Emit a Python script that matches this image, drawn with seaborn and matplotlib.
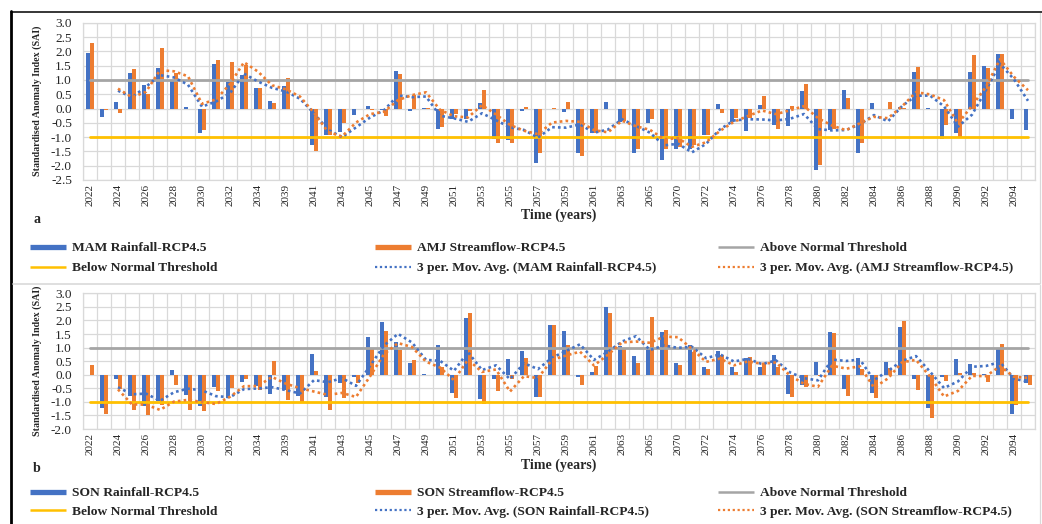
import numpy as np
import pandas as pd
import matplotlib
matplotlib.use("Agg")
import matplotlib.pyplot as plt
import seaborn as sns
from matplotlib.lines import Line2D
from matplotlib.font_manager import FontProperties

# ---- data -------------------------------------------------------------
years = ([str(y) for y in range(2022, 2036)]
         + [str(y) for y in range(2039, 2067)]
         + [str(y) for y in range(2070, 2096)])

mam_rainfall = [1.95, -0.29, 0.21, 1.25, 0.82, 1.43, 1.01, 0.05, -0.87, 1.55,
                0.93, 1.17, 0.73, 0.27, 0.78, -0.03, -1.26, -0.93, -0.82, -0.23,
                0.10, -0.05, 1.32, -0.08, 0.02, -0.70, -0.35, -0.35, 0.20, -1.08,
                -1.10, -0.07, -1.89, 0.00, -0.12, -1.55, -0.87, 0.21, -0.47, -1.57,
                -0.50, -1.80, -1.40, -1.40, -0.92, 0.14, -0.47, -0.80, 0.12, -0.58,
                -0.62, 0.62, -2.16, -0.76, 0.66, -1.55, 0.20, 0.00, 0.05, 1.29,
                0.02, -1.08, -0.85, 1.28, 1.49, 1.92, -0.35, -0.76]
amj_streamflow = [2.28, -0.05, -0.15, 1.38, 0.52, 2.13, 1.25, 0.00, -0.76, 1.71,
                  1.63, 1.51, 0.73, 0.20, 1.08, -0.03, -1.49, -0.93, -0.52, -0.02,
                  -0.05, -0.27, 1.20, 0.47, 0.03, -0.64, -0.20, -0.10, 0.66, -1.19,
                  -1.19, 0.05, -1.55, 0.02, 0.23, -1.65, -0.85, 0.00, -0.43, -1.43,
                  -0.38, -1.40, -1.34, -1.28, -0.92, -0.15, -0.32, -0.32, 0.43, -0.70,
                  0.08, 0.87, -1.96, -0.70, 0.38, -1.22, -0.03, 0.23, 0.02, 1.46,
                  0.00, -0.58, -0.99, 1.86, 1.40, 1.92, 0.00, 0.00]
son_rainfall = [0.00, -1.22, -0.17, -0.77, -1.15, -0.96, 0.17, -0.75, -1.15, -0.47,
                -0.86, -0.26, -0.40, -0.72, -0.58, -0.78, 0.76, -0.81, -0.32, -0.10,
                1.38, 1.95, 1.19, 0.42, 0.03, 1.09, -0.69, 2.10, -0.90, -0.16,
                0.57, 0.86, -0.81, 1.83, 1.60, -0.07, 0.11, 2.50, 1.06, 0.70,
                0.97, 1.56, 0.44, 1.09, 0.30, 0.86, 0.30, 0.60, 0.27, 0.71,
                -0.72, -0.38, 0.48, 1.58, -0.54, 0.63, -0.69, 0.48, 1.74, -0.16,
                -1.24, -0.07, 0.57, 0.38, 0.02, 1.00, -1.46, -0.32]
son_streamflow = [0.36, -1.46, -0.52, -1.30, -1.49, -1.10, -0.38, -1.30, -1.34, -0.60,
                  -0.50, -0.17, -0.58, 0.51, -0.93, -1.06, 0.13, -1.30, -0.84, -0.32,
                  0.97, 1.62, 0.91, 0.53, 0.00, 0.27, -0.87, 2.27, -1.09, -0.60,
                  -0.17, 0.61, -0.81, 1.85, 1.08, -0.38, 0.32, 2.28, 0.97, 0.42,
                  2.14, 1.65, 0.36, 0.85, 0.21, 0.72, 0.11, 0.64, 0.45, 0.27,
                  -0.81, -0.47, -0.05, 1.52, -0.79, 0.20, -0.84, 0.23, 1.98, -0.57,
                  -1.61, -0.23, 0.05, 0.05, -0.26, 1.15, -1.12, -0.38]

above_normal = 1.0
below_normal = -1.0
ma_window = 3

# ---- style ------------------------------------------------------------
W, H = 1042, 524
BLUE, ORANGE = "#4472C4", "#ED7D31"
GRAY, YELLOW = "#A5A5A5", "#FFC000"
GRID = "#D9D9D9"

sns.set_theme(style="white")
plt.rcParams["font.family"] = ["Liberation Serif", "DejaVu Serif"]
plt.rcParams["axes.unicode_minus"] = False

fig = plt.figure(figsize=(W / 100, H / 100), dpi=100)
fig.patch.set_facecolor("white")


def fx(px):
    return px / W


def fy(py):
    return 1 - py / H


def draw_panel(ax, rain, flow, rain_name, flow_name, ylo):
    n = len(years)
    df = pd.DataFrame({
        "year": years * 2,
        "sai": list(rain) + list(flow),
        "series": [rain_name] * n + [flow_name] * n,
    })
    sns.barplot(data=df, x="year", y="sai", hue="series", order=years,
                hue_order=[rain_name, flow_name], palette=[BLUE, ORANGE],
                saturation=1, width=0.6, gap=0, legend=False, ax=ax,
                linewidth=0, zorder=2)

    pos = np.arange(n)
    sns.lineplot(x=pos, y=[above_normal] * n, color=GRAY, lw=2.0, ax=ax, zorder=3)
    sns.lineplot(x=pos, y=[below_normal] * n, color=YELLOW, lw=2.0, ax=ax, zorder=3)

    # trailing 3-period moving averages
    rain_ma = pd.Series(rain).rolling(ma_window).mean()
    flow_ma = pd.Series(flow).rolling(ma_window).mean()
    for ma, col in ((rain_ma, BLUE), (flow_ma, ORANGE)):
        ok = ma.notna().values
        sns.lineplot(x=pos[ok], y=ma.values[ok], color=col, lw=1.9, ax=ax,
                     linestyle=(0, (1, 1.2)), zorder=4, sort=False)

    ticks = np.arange(ylo, 3.001, 0.5)
    ax.set_xlim(-0.5, n - 0.5)
    ax.set_ylim(ylo, 3.0)
    ax.set_yticks(ticks)
    ax.set_yticklabels([f"{v:.1f}" for v in ticks], fontsize=9.5)
    ax.set_xticks(np.arange(0, n, 2))
    ax.set_xticklabels(years[::2], rotation=90, fontsize=8)
    ax.set_xticks(np.arange(-0.5, n, 1), minor=True)
    ax.tick_params(axis="both", which="both", length=0)
    ax.tick_params(axis="y", pad=8)
    ax.tick_params(axis="x", pad=3)
    ax.grid(False)
    ax.grid(True, axis="x", which="minor", color=GRID, lw=0.9)
    ax.grid(True, axis="y", which="major", color=GRID, lw=0.9)
    ax.set_axisbelow(True)
    for s in ax.spines.values():
        s.set_color(GRID)
        s.set_linewidth(0.9)
    ax.set_xlabel("")
    ax.set_ylabel("")


ax_a = fig.add_axes([fx(83), fy(180), fx(952), (180 - 22.7) / H])
ax_b = fig.add_axes([fx(83), fy(429), fx(952), (429 - 293.3) / H])
draw_panel(ax_a, mam_rainfall, amj_streamflow, "MAM Rainfall-RCP4.5",
           "AMJ Streamflow-RCP4.5", -2.5)
draw_panel(ax_b, son_rainfall, son_streamflow, "SON Rainfall-RCP4.5",
           "SON Streamflow-RCP4.5", -2.0)

# axis titles and panel letters
ylab = "Standardised Anomaly Index (SAI)"
fig.text(fx(37), fy(101), ylab, rotation=90, ha="center", va="center",
         fontsize=7.2, fontweight="bold")
fig.text(fx(37), fy(361), ylab, rotation=90, ha="center", va="center",
         fontsize=7.2, fontweight="bold")
fig.text(fx(559), fy(215), "Time (years)", ha="center", va="center",
         fontsize=10, fontweight="bold")
fig.text(fx(559), fy(465), "Time (years)", ha="center", va="center",
         fontsize=10, fontweight="bold")
fig.text(fx(33), fy(219), "a", ha="left", va="center", fontsize=10, fontweight="bold")
fig.text(fx(33), fy(469), "b", ha="left", va="center", fontsize=10, fontweight="bold")

# legends: three columns of two rows under each panel
leg_font = FontProperties(family=["Liberation Serif"], weight="bold", size=9.7)


def legend_entry(handle, label, x_px, y_px):
    fig.legend([handle], [label], loc="center left",
               bbox_to_anchor=(fx(x_px), fy(y_px)), bbox_transform=fig.transFigure,
               frameon=False, borderpad=0, borderaxespad=0, handlelength=2.7,
               handletextpad=0.45, prop=leg_font)


def bar_handle(c):
    return Line2D([], [], color=c, lw=3.8, solid_capstyle="butt")


def line_handle(c):
    return Line2D([], [], color=c, lw=1.8, solid_capstyle="butt")


def dot_handle(c):
    return Line2D([], [], color=c, lw=1.6, linestyle=(0, (1, 1.2)))


cols = (30, 375, 718)
for (r1, r2), (rain_name, flow_name) in (
        ((248, 268), ("MAM Rainfall-RCP4.5", "AMJ Streamflow-RCP4.5")),
        ((493, 512), ("SON Rainfall-RCP4.5", "SON Streamflow-RCP4.5"))):
    legend_entry(bar_handle(BLUE), rain_name, cols[0], r1)
    legend_entry(bar_handle(ORANGE), flow_name, cols[1], r1)
    legend_entry(line_handle(GRAY), "Above Normal Threshold", cols[2], r1)
    legend_entry(line_handle(YELLOW), "Below Normal Threshold", cols[0], r2)
    legend_entry(dot_handle(BLUE), f"3 per. Mov. Avg. ({rain_name})", cols[1], r2)
    legend_entry(dot_handle(ORANGE), f"3 per. Mov. Avg. ({flow_name})", cols[2], r2)

# frame lines around the figure and between the two charts
fig.add_artist(Line2D([fx(11), fx(11)], [fy(11), 0], transform=fig.transFigure,
                      color="black", lw=2.0))
fig.add_artist(Line2D([fx(11), 1], [fy(11.5), fy(11.5)], transform=fig.transFigure,
                      color="black", lw=1.1))
fig.add_artist(Line2D([fx(13), fx(1040)], [fy(284), fy(284)], transform=fig.transFigure,
                      color=GRID, lw=1.2))
fig.add_artist(Line2D([fx(1040), fx(1040)], [fy(13), fy(283)], transform=fig.transFigure,
                      color=GRID, lw=0.9))
fig.add_artist(Line2D([fx(1040), fx(1040)], [fy(285), 0], transform=fig.transFigure,
                      color=GRID, lw=0.9))

fig.savefig("out.png", dpi=100, facecolor="white")
